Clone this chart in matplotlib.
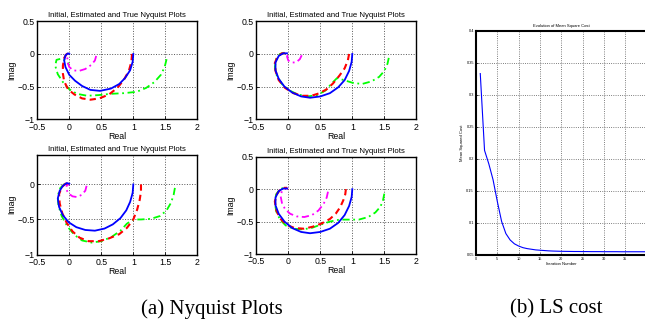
import matplotlib
matplotlib.use("Agg")
import matplotlib.pyplot as plt
import numpy as np

# Nyquist curves (real, imag): TL, TR, BL, BR
true_re = [
    [1.0, 0.99, 0.95, 0.87, 0.78, 0.65, 0.48, 0.33, 0.2, 0.09, 0.0, -0.06, -0.08, -0.06, -0.02, 0.0],
    [1.0, 0.99, 0.95, 0.88, 0.78, 0.65, 0.5, 0.34, 0.2, 0.06, -0.06, -0.15, -0.2, -0.2, -0.15, -0.08, -0.02],
    [1.0, 0.99, 0.95, 0.89, 0.8, 0.68, 0.55, 0.4, 0.25, 0.11, -0.01, -0.1, -0.16, -0.18, -0.15, -0.1, -0.04, 0.0],
    [1.0, 0.99, 0.95, 0.88, 0.78, 0.65, 0.5, 0.34, 0.2, 0.06, -0.06, -0.15, -0.2, -0.2, -0.15, -0.08, -0.02],
]
true_im = [
    [0.0, -0.12, -0.25, -0.37, -0.46, -0.53, -0.565, -0.55, -0.49, -0.41, -0.32, -0.2, -0.1, -0.02, 0.01, 0.0],
    [0.0, -0.12, -0.26, -0.4, -0.51, -0.6, -0.65, -0.67, -0.65, -0.59, -0.5, -0.38, -0.25, -0.13, -0.03, 0.01, 0.01],
    [0.0, -0.12, -0.25, -0.37, -0.48, -0.57, -0.63, -0.66, -0.65, -0.61, -0.54, -0.44, -0.32, -0.2, -0.09, -0.02, 0.02, 0.01],
    [0.0, -0.12, -0.26, -0.4, -0.52, -0.61, -0.66, -0.68, -0.66, -0.6, -0.5, -0.38, -0.25, -0.13, -0.03, 0.01, 0.01],
]
est_re = [
    [0.98, 0.97, 0.93, 0.85, 0.75, 0.62, 0.47, 0.33, 0.2, 0.08, -0.02, -0.08, -0.1, -0.1, -0.08, -0.04, 0.0],
    [0.95, 0.93, 0.88, 0.8, 0.7, 0.6, 0.49, 0.36, 0.22, 0.08, -0.05, -0.15, -0.2, -0.21, -0.17, -0.1, -0.05],
    [1.12, 1.12, 1.1, 1.06, 1.0, 0.9, 0.78, 0.62, 0.46, 0.3, 0.16, 0.05, -0.04, -0.11, -0.15, -0.16, -0.12, -0.06, 0.0],
    [0.9, 0.89, 0.86, 0.81, 0.74, 0.65, 0.52, 0.38, 0.24, 0.1, -0.03, -0.13, -0.19, -0.21, -0.18, -0.12, -0.06, -0.02],
]
est_im = [
    [0.0, -0.12, -0.26, -0.4, -0.52, -0.62, -0.68, -0.7, -0.68, -0.62, -0.54, -0.42, -0.3, -0.18, -0.06, 0.0, 0.01],
    [0.0, -0.1, -0.22, -0.33, -0.45, -0.54, -0.6, -0.64, -0.64, -0.6, -0.52, -0.4, -0.26, -0.14, -0.04, 0.01, 0.01],
    [0.0, -0.1, -0.22, -0.36, -0.5, -0.62, -0.71, -0.77, -0.81, -0.81, -0.76, -0.67, -0.55, -0.41, -0.27, -0.14, -0.04, 0.01, 0.01],
    [0.0, -0.08, -0.17, -0.28, -0.38, -0.46, -0.53, -0.58, -0.61, -0.6, -0.55, -0.45, -0.32, -0.19, -0.08, 0.0, 0.02, 0.02],
]
init_re = [
    [1.52, 1.49, 1.43, 1.33, 1.2, 1.05, 0.85, 0.65, 0.45, 0.28, 0.12, 0.0, -0.1, -0.18, -0.22, -0.2, -0.12, -0.04, 0.0],
    [1.57, 1.55, 1.5, 1.42, 1.3, 1.15, 1.0, 0.87, 0.76, 0.68, 0.58, 0.45, 0.3, 0.15, 0.02, -0.1, -0.18, -0.21, -0.19, -0.13, -0.06],
    [1.65, 1.63, 1.59, 1.52, 1.42, 1.28, 1.12, 1.0, 0.9, 0.8, 0.66, 0.5, 0.35, 0.2, 0.08, -0.03, -0.12, -0.17, -0.18, -0.14, -0.07, -0.02],
    [1.5, 1.48, 1.44, 1.36, 1.25, 1.1, 0.95, 0.8, 0.65, 0.5, 0.36, 0.22, 0.08, -0.04, -0.13, -0.19, -0.21, -0.19, -0.13, -0.07, -0.02],
]
init_im = [
    [-0.08, -0.2, -0.32, -0.43, -0.52, -0.58, -0.6, -0.61, -0.63, -0.64, -0.61, -0.54, -0.43, -0.31, -0.18, -0.09, -0.07, -0.11, -0.17],
    [-0.06, -0.15, -0.26, -0.35, -0.42, -0.46, -0.44, -0.4, -0.37, -0.45, -0.56, -0.63, -0.65, -0.62, -0.56, -0.46, -0.33, -0.2, -0.08, 0.0, 0.02],
    [-0.05, -0.15, -0.26, -0.37, -0.45, -0.49, -0.5, -0.5, -0.56, -0.66, -0.75, -0.81, -0.83, -0.8, -0.72, -0.6, -0.45, -0.3, -0.16, -0.05, 0.01, 0.02],
    [-0.07, -0.17, -0.27, -0.36, -0.43, -0.47, -0.47, -0.47, -0.5, -0.55, -0.6, -0.62, -0.61, -0.56, -0.47, -0.34, -0.2, -0.08, 0.0, 0.02, 0.02],
]
other_re = [
    [0.42, 0.4, 0.34, 0.25, 0.15, 0.06, 0.0, -0.03, -0.03, 0.0],
    [0.21, 0.18, 0.12, 0.05, 0.0, -0.02, 0.0],
    [0.27, 0.25, 0.19, 0.12, 0.05, -0.01, -0.05, -0.04, 0.0],
    [0.62, 0.6, 0.55, 0.47, 0.37, 0.25, 0.13, 0.03, -0.05, -0.1, -0.12, -0.1, -0.05, 0.0],
]
other_im = [
    [-0.03, -0.1, -0.17, -0.23, -0.26, -0.25, -0.2, -0.12, -0.04, 0.0],
    [-0.02, -0.08, -0.13, -0.13, -0.1, -0.04, 0.0],
    [-0.02, -0.09, -0.15, -0.18, -0.17, -0.13, -0.07, -0.01, 0.0],
    [-0.04, -0.13, -0.23, -0.33, -0.4, -0.43, -0.42, -0.38, -0.31, -0.21, -0.11, -0.03, 0.01, 0.01],
]
x_ticks = [-0.5, 0, 0.5, 1, 1.5, 2]
x_ticklabels = ['\u22120.5', '0', '0.5', '1', '1.5', '2']
y_ticks = [-1, -0.5, 0, 0.5]
y_ticklabels = ['\u22121', '\u22120.5', '0', '0.5']

# mean square cost per iteration
iterations = list(range(1, 41))
cost = [0.333, 0.213, 0.192, 0.167, 0.133, 0.102, 0.083, 0.073, 0.067, 0.0635,
        0.061, 0.0595, 0.0585, 0.0575, 0.057, 0.0565, 0.056, 0.0557, 0.0555, 0.0553,
        0.0552, 0.0551, 0.055, 0.055, 0.0549, 0.0549, 0.0548, 0.0548, 0.0548, 0.0547,
        0.0547, 0.0547, 0.0547, 0.0546, 0.0546, 0.0546, 0.0546, 0.0546, 0.0546, 0.0546]
cost_yticks = [0.05, 0.1, 0.15, 0.2, 0.25, 0.3, 0.35, 0.4]
cost_yticklabels = ['0.05', '0.1', '0.15', '0.2', '0.25', '0.3', '0.35', '0.4']

plt.rcParams['font.family'] = ['Liberation Sans', 'DejaVu Sans']

W, H = 645, 331
fig = plt.figure(figsize=(W / 100, H / 100), dpi=100)

def px_axes(x0, y0, x1, y1):
    return fig.add_axes([x0 / W, 1 - y1 / H, (x1 - x0) / W, (y1 - y0) / H])

# (x0, top, x1, bottom) in pixels, ylim per panel
boxes = [(37.3, 21.3, 197.3, 119.3), (256.3, 21.3, 416.3, 119.3),
         (37.3, 155.0, 197.3, 254.5), (256.3, 156.7, 416.3, 254.0)]
ylims = [(-1, 0.5), (-1, 0.5), (-1, 0.42), (-1, 0.5)]

for i, box in enumerate(boxes):
    ax = px_axes(*box)
    ax.plot(init_re[i], init_im[i], color=(0, 1, 0), lw=1.3, ls=(0, (4, 2, 1, 2)))
    ax.plot(other_re[i], other_im[i], color=(1, 0, 1), lw=1.3, ls=(0, (4, 2, 1, 2)))
    ax.plot(est_re[i], est_im[i], color=(1, 0, 0), lw=1.5, ls=(0, (3, 2)))
    ax.plot(true_re[i], true_im[i], color=(0, 0, 1), lw=1.3)
    ax.set_xlim(-0.5, 2)
    ax.set_ylim(*ylims[i])
    ax.set_xticks(x_ticks)
    ax.set_xticklabels(x_ticklabels)
    n = len(y_ticks) if ylims[i][1] >= 0.5 else 3
    ax.set_yticks(y_ticks[:n])
    ax.set_yticklabels(y_ticklabels[:n])
    ax.grid(True, ls=':', color='#555555', lw=0.7)
    ax.tick_params(direction='in', labelsize=6.3, length=2, width=0.6)
    ax.tick_params(axis='x', pad=2.5)
    ax.tick_params(axis='y', pad=2.0)
    for s in ax.spines.values():
        s.set_linewidth(1.0)
    ax.set_title('Initial, Estimated and True Nyquist Plots', fontsize=5.6, pad=3)
    ax.set_xlabel('Real', fontsize=6.3, labelpad=0)
    ax.set_ylabel('Imag', fontsize=6.3, labelpad=0.5)

# cost panel
ax = px_axes(476, 30.7, 646.7, 254.7)
ax.plot(iterations, cost, color='blue', lw=0.8)
ax.set_xlim(0, 40)
ax.set_ylim(0.05, 0.4)
ax.set_xticks(np.arange(0, 41, 5))
ax.set_yticks(cost_yticks)
ax.set_yticklabels(cost_yticklabels)
ax.grid(True, ls=':', color='#555555', lw=0.6)
ax.tick_params(direction='in', labelsize=2.8, length=1.5, width=0.5, pad=1.5)
for s in ax.spines.values():
    s.set_linewidth(1.5)
ax.set_title('Evolution of Mean Square Cost', fontsize=3, pad=3)
ax.set_xlabel('Iteration Number', fontsize=3, labelpad=1)
ax.set_ylabel('Mean Squared Cost', fontsize=3, labelpad=2)

fig.text(212 / W, 1 - 309 / H, '(a) Nyquist Plots', family='Liberation Serif',
         fontsize=15, ha='center', va='center')
fig.text(556 / W, 1 - 309 / H, '(b) LS cost', family='Liberation Serif',
         fontsize=15, ha='center', va='center')

fig.savefig('out.png', dpi=100)
